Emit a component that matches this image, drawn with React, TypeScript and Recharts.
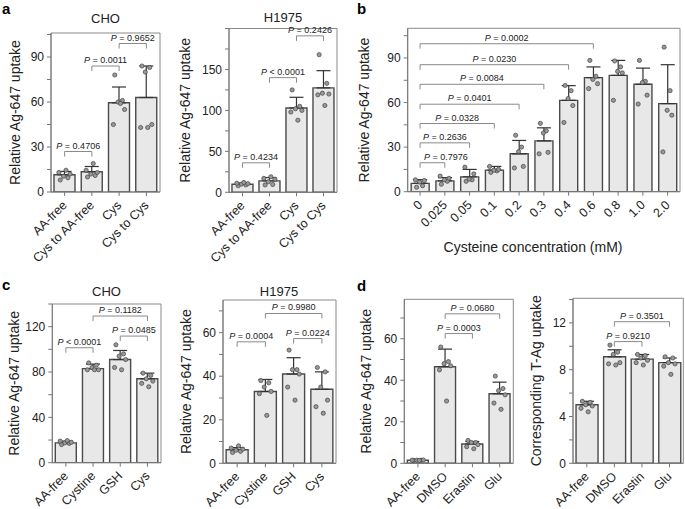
import React from 'react';
import {
  ComposedChart,
  Bar,
  ErrorBar,
  Scatter,
  XAxis,
  YAxis,
  ReferenceLine,
  ReferenceArea,
} from 'recharts';

const FONT = '"Liberation Sans", Arial, Helvetica, sans-serif';
const TXT = '#222';
const AX = '#777';

// ---------------- data ----------------
// panel a – CHO
const A_CHO_CATS = ['AA-free', 'Cys to AA-free', 'Cys', 'Cys to Cys'];
const A_CHO_MEAN = [11.5, 13.5, 59.5, 63];
const A_CHO_SD = [2.2, 3.5, 10.5, 21];
const A_CHO_PTS = [
  [8, 9.5, 10.5, 12, 13, 14.5],
  [10, 11, 12, 13, 14.5, 19],
  [78, 61, 60, 55, 45, 59],
  [84, 83, 80, 45, 43, 43],
];
const A_CHO_TICKS = [0, 15, 30, 45, 60, 75, 90, 105];
const A_CHO_LABELS = [0, 30, 60, 90];
const A_CHO_P = [
  { from: 0, to: 1, y: 27, text: '= 0.4706' },
  { from: 1, to: 2, y: 84, text: '= 0.0011' },
  { from: 2, to: 3, y: 99, text: '= 0.9652' },
];

// panel a – H1975
const A_H_CATS = ['AA-free', 'Cys to AA-free', 'Cys', 'Cys to Cys'];
const A_H_MEAN = [9.8, 14, 103, 127.5];
const A_H_SD = [1.5, 4, 13, 21];
const A_H_PTS = [
  [8, 9, 10, 10.5, 11, 12],
  [9, 9.5, 13, 16, 17, 19],
  [125, 105, 102, 100, 98, 88],
  [168, 133, 121, 120, 119, 106],
];
const A_H_TICKS = [0, 25, 50, 75, 100, 125, 150, 175, 200];
const A_H_LABELS = [0, 50, 100, 150];
const A_H_P = [
  { from: 0, to: 1, y: 36, text: '= 0.4234' },
  { from: 1, to: 2, y: 140, text: '< 0.0001' },
  { from: 2, to: 3, y: 191, text: '= 0.2426' },
];

// panel b – cysteine dose
const B_CATS = ['0', '0.025', '0.05', '0.1', '0.2', '0.3', '0.4', '0.6', '0.8', '1.0', '2.0'];
const B_MEAN = [5.6, 7.3, 10, 14.5, 25.5, 34.2, 61.5, 76.8, 78.3, 72.3, 59.3];
const B_SD = [2.5, 2.2, 5, 2.5, 9, 8.8, 9.9, 7.2, 10.1, 10.9, 26.2];
const B_PTS = [
  [3, 4, 6.5, 7.5, 8],
  [5, 7, 8, 9, 10.5],
  [7, 8, 8.5, 12, 16.5],
  [13, 14, 14.5, 15, 17],
  [38, 30, 27, 17, 16],
  [46, 41, 39.5, 26.5, 25.5],
  [71.5, 68, 62.7, 58, 46.6],
  [88.4, 77.7, 75.6, 72.7, 69.4],
  [88, 84, 81, 80, 61.5],
  [88.4, 74.3, 73.5, 65, 59],
  [97.3, 68, 54.8, 51.5, 26.8],
];
const B_TICKS = [0, 15, 30, 45, 60, 75, 90, 105];
const B_LABELS = [0, 30, 60, 90];
const B_P = [
  { from: 0, to: 1, y: 19.5, text: '= 0.7976', anchor: 'start' },
  { from: 0, to: 2, y: 32.9, text: '= 0.2636' },
  { from: 0, to: 3, y: 45.9, text: '= 0.0328' },
  { from: 0, to: 4, y: 58.9, text: '= 0.0401' },
  { from: 0, to: 5, y: 72.3, text: '= 0.0084' },
  { from: 0, to: 6, y: 85.5, text: '= 0.0230' },
  { from: 0, to: 7, y: 99.6, text: '= 0.0002' },
];

// panel c – CHO
const C_CHO_CATS = ['AA-free', 'Cystine', 'GSH', 'Cys'];
const C_CHO_MEAN = [17.5, 83, 91, 74];
const C_CHO_SD = [1.5, 4, 8, 5];
const C_CHO_PTS = [
  [16, 17, 17.5, 18, 19, 19.5],
  [88, 86, 84, 82, 82, 82],
  [104, 96, 94, 91, 84, 82],
  [79, 77, 74, 72, 70, 67],
];
const C_CHO_TICKS = [0, 20, 40, 60, 80, 100, 120, 140];
const C_CHO_LABELS = [0, 40, 80, 120];
const C_CHO_P = [
  { from: 0, to: 1, y: 101.4, text: '< 0.0001' },
  { from: 2, to: 3, y: 111.7, text: '= 0.0485' },
  { from: 1, to: 3, y: 129.4, text: '= 0.1182' },
];

// panel c – H1975
const C_H_CATS = ['AA-free', 'Cystine', 'GSH', 'Cys'];
const C_H_MEAN = [6.2, 33, 41, 34];
const C_H_SD = [1, 5.5, 7.5, 8];
const C_H_PTS = [
  [5, 5.5, 6, 6.5, 7, 8],
  [38, 37, 35, 33, 32, 22],
  [52, 43, 43, 41, 35, 29],
  [44, 42, 35, 29, 26, 23],
];
const C_H_TICKS = [0, 10, 20, 30, 40, 50, 60, 70];
const C_H_LABELS = [0, 20, 40, 60];
const C_H_P = [
  { from: 0, to: 1, y: 55.8, text: '= 0.0004' },
  { from: 2, to: 3, y: 57.3, text: '= 0.0224' },
  { from: 1, to: 3, y: 68.8, text: '= 0.9980' },
];

// panel d – Ag-647
const D_AG_CATS = ['AA-free', 'DMSO', 'Erastin', 'Glu'];
const D_AG_MEAN = [1.5, 46.5, 9.3, 33.5];
const D_AG_SD = [0.3, 8.5, 1.2, 5.6];
const D_AG_PTS = [
  [1.4, 1.5, 1.5, 1.6, 1.5, 1.4],
  [56, 49, 48, 47, 45, 30],
  [11, 10, 10, 9, 8, 7],
  [42, 36, 35, 33, 29, 26],
];
const D_AG_TICKS = [0, 10, 20, 30, 40, 50, 60, 70];
const D_AG_LABELS = [0, 20, 40, 60];
const D_AG_P = [
  { from: 1, to: 2, y: 62.5, text: '= 0.0003' },
  { from: 1, to: 3, y: 72, text: '= 0.0680' },
];

// panel d – T-Ag
const D_T_CATS = ['AA-free', 'DMSO', 'Erastin', 'Glu'];
const D_T_MEAN = [5, 9.1, 8.9, 8.6];
const D_T_SD = [0.3, 0.6, 0.4, 0.4];
const D_T_PTS = [
  [5.3, 5.2, 5.0, 4.9, 4.7, 4.4],
  [10.1, 9.5, 9.3, 8.6, 8.5, 8.4],
  [9.3, 9.2, 9.0, 8.8, 8.6, 8.4],
  [9.1, 9.0, 8.6, 8.5, 8.3, 7.6],
];
const D_T_TICKS = [0, 2, 4, 6, 8, 10, 12, 14];
const D_T_LABELS = [0, 4, 8, 12];
const D_T_P = [
  { from: 1, to: 2, y: 10.4, text: '= 0.9210' },
  { from: 1, to: 3, y: 12.1, text: '= 0.3501' },
];

// horizontal spread of dots inside a bar (fraction of category width)
const JITTER6 = [-0.16, 0.12, -0.04, 0.2, -0.21, 0.05];
const JITTER5 = [-0.14, 0.1, -0.02, 0.17, -0.19];

// ---------------- chart ----------------
type Bracket = { from: number; to: number; y: number; text: string; anchor?: string };
type PanelCfg = {
  left: number; top: number; width: number; height: number;
  pl: number; pr: number; pt: number; pb: number;
  yMax: number; ticks: number[]; labels: number[];
  cats: string[]; mean: number[]; sd: number[]; pts: number[][]; brackets: Bracket[];
  yTitle: string; yTitleX: number; gap: string;
  xTitle?: string; xTitleX?: number; xTitleY?: number;
};

const Dot = (props: any) => (
  <circle cx={props.cx} cy={props.cy} r={2.1} fill="#989898" stroke="#444" strokeWidth={0.7} />
);

const catTick = (props: any) => {
  const { x, y, payload } = props;
  const tx = x + 3;
  const ty = y + 8;
  return (
    <text
      x={tx}
      y={ty}
      textAnchor="end"
      transform={`rotate(-45 ${tx} ${ty})`}
      fontSize={12.5}
      fill={TXT}
      fontFamily={FONT}
    >
      {payload.value}
    </text>
  );
};

function Chart({ p }: { p: PanelCfg }) {
  const n = p.cats.length;
  const data = p.cats.map((c, i) => ({ name: c, mean: p.mean[i], err: [0, p.sd[i]] }));
  const dots = p.pts.flatMap((vals, i) =>
    vals.map((v, j) => ({ x: i + (vals.length === 6 ? JITTER6 : JITTER5)[j], y: v }))
  );
  const xH = 30;
  const mTop = p.pt - p.top;
  const yW = p.pl - p.left;
  const mRight = p.left + p.width - p.pr;
  const mBottom = p.top + p.height - p.pb - xH;
  const leg = (p.yMax * 5) / (p.pb - p.pt);

  const yLabel = (lp: any) => {
    const vb = lp.viewBox || {};
    const cy = (vb.y ?? mTop) + (vb.height ?? p.pb - p.pt) / 2;
    const x = p.yTitleX - p.left;
    return (
      <text
        x={x}
        y={cy}
        transform={`rotate(-90 ${x} ${cy})`}
        textAnchor="middle"
        dominantBaseline="central"
        fontSize={14}
        fill={TXT}
        fontFamily={FONT}
      >
        {p.yTitle}
      </text>
    );
  };

  const xLabel = () =>
    p.xTitle ? (
      <text
        x={(p.xTitleX as number) - p.left}
        y={(p.xTitleY as number) - p.top}
        textAnchor="middle"
        dominantBaseline="central"
        fontSize={14}
        fill={TXT}
        fontFamily={FONT}
      >
        {p.xTitle}
      </text>
    ) : null;

  const pLabel = (b: Bracket) => (lp: any) => {
    const vb = lp.viewBox || {};
    const start = b.anchor === 'start';
    const x = start ? vb.x + 4 : vb.x + vb.width / 2;
    return (
      <text
        x={x}
        y={vb.y - 3}
        textAnchor={start ? 'start' : 'middle'}
        fontSize={9}
        fill={TXT}
        fontFamily={FONT}
      >
        <tspan fontStyle="italic">P</tspan>
        {' ' + b.text}
      </text>
    );
  };

  return (
    <div style={{ position: 'absolute', left: p.left, top: p.top }}>
      <ComposedChart
        width={p.width}
        height={p.height}
        data={data}
        margin={{ top: mTop, right: mRight, bottom: mBottom, left: 0 }}
        barCategoryGap={p.gap}
      >
        <XAxis
          xAxisId="c"
          dataKey="name"
          type="category"
          height={xH}
          interval={0}
          tick={catTick}
          tickSize={4}
          axisLine={{ stroke: AX }}
          tickLine={{ stroke: AX }}
          label={xLabel}
        />
        <XAxis xAxisId="n" dataKey="x" type="number" domain={[-0.5, n - 0.5]} hide allowDataOverflow />
        <YAxis
          type="number"
          domain={[0, p.yMax]}
          ticks={p.ticks}
          interval={0}
          allowDataOverflow
          width={yW}
          tickSize={4}
          tickMargin={3}
          axisLine={{ stroke: AX }}
          tickLine={{ stroke: AX }}
          tick={{ fontSize: 12, fill: TXT, fontFamily: FONT }}
          tickFormatter={(v: number) => (p.labels.includes(v) ? String(v) : '')}
          label={yLabel}
        />
        <ReferenceArea
          xAxisId="n"
          x1={-0.5}
          x2={n - 0.5}
          y1={0}
          y2={p.yMax}
          fill="none"
          fillOpacity={0}
          stroke="#8a8a8a"
          strokeWidth={1}
          ifOverflow="visible"
        />
        <Bar
          xAxisId="c"
          dataKey="mean"
          fill="#e8e8e8"
          stroke="#4a4a4a"
          strokeWidth={1.4}
          isAnimationActive={false}
        >
          <ErrorBar dataKey="err" width={7} stroke="#333" strokeWidth={1.2} direction="y" />
        </Bar>
        <Scatter
          xAxisId="n"
          data={dots}
          dataKey="y"
          shape={Dot}
          isAnimationActive={false}
        />
        {p.brackets.map((b, k) => (
          <ReferenceLine
            key={`h${k}`}
            xAxisId="n"
            segment={[{ x: b.from, y: b.y }, { x: b.to, y: b.y }]}
            stroke="#8a8a8a"
            strokeWidth={1}
            ifOverflow="visible"
            label={pLabel(b)}
          />
        ))}
        {p.brackets.map((b, k) => (
          <ReferenceLine
            key={`l${k}`}
            xAxisId="n"
            segment={[{ x: b.from, y: b.y }, { x: b.from, y: b.y - leg }]}
            stroke="#8a8a8a"
            strokeWidth={1}
            ifOverflow="visible"
          />
        ))}
        {p.brackets.map((b, k) => (
          <ReferenceLine
            key={`r${k}`}
            xAxisId="n"
            segment={[{ x: b.to, y: b.y }, { x: b.to, y: b.y - leg }]}
            stroke="#8a8a8a"
            strokeWidth={1}
            ifOverflow="visible"
          />
        ))}
      </ComposedChart>
    </div>
  );
}

const YT = 'Relative Ag-647 uptake';

const PANELS: PanelCfg[] = [
  {
    left: 0, top: 0, width: 170, height: 262, pl: 51, pr: 160, pt: 33, pb: 192,
    yMax: 106, ticks: A_CHO_TICKS, labels: A_CHO_LABELS,
    cats: A_CHO_CATS, mean: A_CHO_MEAN, sd: A_CHO_SD, pts: A_CHO_PTS, brackets: A_CHO_P,
    yTitle: YT, yTitleX: 15, gap: '11%',
  },
  {
    left: 170, top: 0, width: 170, height: 262, pl: 229, pr: 337, pt: 28.5, pb: 192.3,
    yMax: 200, ticks: A_H_TICKS, labels: A_H_LABELS,
    cats: A_H_CATS, mean: A_H_MEAN, sd: A_H_SD, pts: A_H_PTS, brackets: A_H_P,
    yTitle: YT, yTitleX: 185, gap: '11%',
  },
  {
    left: 340, top: 0, width: 345, height: 280, pl: 407.7, pr: 680, pt: 28.3, pb: 191.7,
    yMax: 110, ticks: B_TICKS, labels: B_LABELS,
    cats: B_CATS, mean: B_MEAN, sd: B_SD, pts: B_PTS, brackets: B_P,
    yTitle: YT, yTitleX: 364, gap: '14%',
    xTitle: 'Cysteine concentration (mM)', xTitleX: 533, xTitleY: 247,
  },
  {
    left: 0, top: 280, width: 170, height: 229, pl: 52.3, pr: 161, pt: 304, pb: 462.7,
    yMax: 140, ticks: C_CHO_TICKS, labels: C_CHO_LABELS,
    cats: C_CHO_CATS, mean: C_CHO_MEAN, sd: C_CHO_SD, pts: C_CHO_PTS, brackets: C_CHO_P,
    yTitle: YT, yTitleX: 14, gap: '11%',
  },
  {
    left: 170, top: 280, width: 170, height: 229, pl: 223, pr: 336, pt: 300, pb: 463.3,
    yMax: 75, ticks: C_H_TICKS, labels: C_H_LABELS,
    cats: C_H_CATS, mean: C_H_MEAN, sd: C_H_SD, pts: C_H_PTS, brackets: C_H_P,
    yTitle: YT, yTitleX: 186, gap: '11%',
  },
  {
    left: 340, top: 280, width: 175, height: 229, pl: 404.3, pr: 513.3, pt: 299.3, pb: 463.3,
    yMax: 79, ticks: D_AG_TICKS, labels: D_AG_LABELS,
    cats: D_AG_CATS, mean: D_AG_MEAN, sd: D_AG_SD, pts: D_AG_PTS, brackets: D_AG_P,
    yTitle: YT, yTitleX: 366, gap: '11%',
  },
  {
    left: 515, top: 280, width: 170, height: 229, pl: 573, pr: 683.3, pt: 298.3, pb: 463.3,
    yMax: 14.1, ticks: D_T_TICKS, labels: D_T_LABELS,
    cats: D_T_CATS, mean: D_T_MEAN, sd: D_T_SD, pts: D_T_PTS, brackets: D_T_P,
    yTitle: 'Corresponding T-Ag uptake', yTitleX: 536, gap: '11%',
  },
];

const LETTERS = [
  { t: 'a', x: 2, y: 14 },
  { t: 'b', x: 357, y: 14 },
  { t: 'c', x: 2, y: 290 },
  { t: 'd', x: 357, y: 291 },
];
const TITLES = [
  { t: 'CHO', x: 105.5, y: 22.5 },
  { t: 'H1975', x: 283, y: 22 },
  { t: 'CHO', x: 106.5, y: 296 },
  { t: 'H1975', x: 279, y: 296 },
];

export default function App() {
  return (
    <div
      style={{
        position: 'absolute',
        left: 0,
        top: 0,
        width: 685,
        height: 509,
        background: '#fff',
        overflow: 'hidden',
      }}
    >
      <style>{'.recharts-surface{overflow:visible}'}</style>
      {PANELS.map((p, i) => (
        <Chart key={i} p={p} />
      ))}
      <svg
        width={685}
        height={509}
        style={{ position: 'absolute', left: 0, top: 0, pointerEvents: 'none' }}
      >
        {LETTERS.map((l) => (
          <text key={l.t} x={l.x} y={l.y} fontSize={15} fontWeight="bold" fill="#000" fontFamily={FONT}>
            {l.t}
          </text>
        ))}
        {TITLES.map((l, i) => (
          <text key={i} x={l.x} y={l.y} fontSize={13} textAnchor="middle" fill={TXT} fontFamily={FONT}>
            {l.t}
          </text>
        ))}
      </svg>
    </div>
  );
}
